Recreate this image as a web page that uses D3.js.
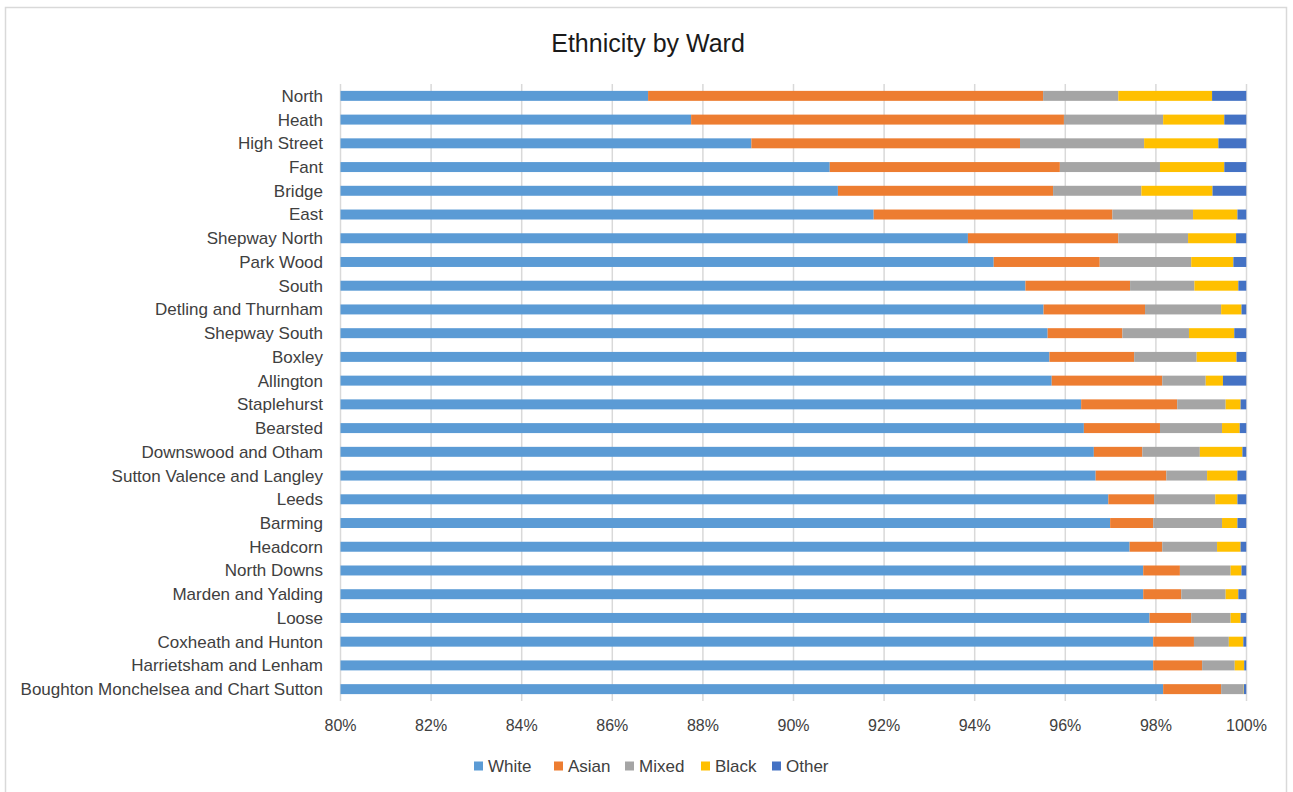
<!DOCTYPE html>
<meta charset="utf-8">
<style>
  body { margin: 0; background: white; }
  svg { font-family: "Liberation Sans", Arial, sans-serif; }
  .grid line { stroke: #d9d9d9; stroke-width: 1.5; }
  .ylab text { fill: #404040; font-size: 17px; }
  .xlab text { fill: #404040; font-size: 16px; }
  .legend text { fill: #404040; font-size: 17px; }
</style>
<body>
</body>
<script src="https://cdn.jsdelivr.net/npm/d3@7"></script>
<script>
  const wards = ['North', 'Heath', 'High Street', 'Fant', 'Bridge', 'East', 'Shepway North',
    'Park Wood', 'South', 'Detling and Thurnham', 'Shepway South', 'Boxley', 'Allington',
    'Staplehurst', 'Bearsted', 'Downswood and Otham', 'Sutton Valence and Langley', 'Leeds',
    'Barming', 'Headcorn', 'North Downs', 'Marden and Yalding', 'Loose', 'Coxheath and Hunton',
    'Harrietsham and Lenham', 'Boughton Monchelsea and Chart Sutton'];

  // percent of ward population, in the same order as wards
  const white = [86.79, 87.74, 89.07, 90.80, 90.98, 91.77, 93.85, 94.42, 95.12, 95.52, 95.61, 95.65, 95.70,
    96.35, 96.41, 96.63, 96.67, 96.95, 96.99, 97.42, 97.72, 97.72, 97.86, 97.94, 97.94, 98.16];
  const asian = [8.72, 8.23, 5.93, 5.08, 4.75, 5.27, 3.32, 2.34, 2.31, 2.24, 1.65, 1.87, 2.44,
    2.12, 1.68, 1.07, 1.56, 1.01, 0.95, 0.72, 0.81, 0.84, 0.92, 0.90, 1.08, 1.28];
  const mixed = [1.66, 2.19, 2.74, 2.21, 1.95, 1.78, 1.54, 2.02, 1.42, 1.68, 1.47, 1.38, 0.96,
    1.07, 1.37, 1.27, 0.90, 1.35, 1.52, 1.21, 1.12, 0.98, 0.87, 0.77, 0.72, 0.49];
  const black = [2.07, 1.35, 1.64, 1.42, 1.57, 0.98, 1.06, 0.93, 0.97, 0.45, 1.00, 0.88, 0.38,
    0.33, 0.39, 0.94, 0.67, 0.49, 0.34, 0.52, 0.24, 0.28, 0.22, 0.32, 0.21, 0.01];
  const other = [0.76, 0.49, 0.62, 0.49, 0.75, 0.20, 0.23, 0.29, 0.18, 0.11, 0.27, 0.22, 0.52,
    0.13, 0.15, 0.09, 0.20, 0.20, 0.20, 0.13, 0.11, 0.18, 0.13, 0.07, 0.05, 0.06];

  const seriesNames = ['White', 'Asian', 'Mixed', 'Black', 'Other'];
  const colors = ['#5b9bd5', '#ed7d31', '#a5a5a5', '#ffc000', '#4472c4'];
  const xTicks = [80, 82, 84, 86, 88, 90, 92, 94, 96, 98, 100];

  const W = 1293, H = 792;
  const plot = {l: 340.5, r: 1246.5, t: 84, b: 701};

  const table = wards.map((w, i) => ({ward: w, White: white[i], Asian: asian[i], Mixed: mixed[i], Black: black[i], Other: other[i]}));
  const stacked = d3.stack().keys(seriesNames)(table);

  const svg = d3.select('body').append('svg')
    .attr('width', W).attr('height', H);

  // chart frame
  svg.append('rect')
    .attr('x', 5.5).attr('y', 7.5)
    .attr('width', 1281).attr('height', 800)
    .attr('fill', 'white').attr('stroke', '#d9d9d9').attr('stroke-width', 1.5);

  const x = d3.scaleLinear().domain([80, 100]).range([plot.l, plot.r]);
  const y = d3.scaleBand().domain(wards).range([plot.t, plot.b])
    .paddingInner(0.58).paddingOuter(0.29);

  // vertical gridlines
  svg.append('g').attr('class', 'grid')
    .selectAll('line')
    .data(xTicks)
    .join('line')
    .attr('x1', d => x(d)).attr('x2', d => x(d))
    .attr('y1', plot.t).attr('y2', plot.b);

  // bars (clipped to the 80% axis start)
  svg.append('clipPath').attr('id', 'clip')
    .append('rect')
    .attr('x', plot.l).attr('y', plot.t)
    .attr('width', plot.r - plot.l).attr('height', plot.b - plot.t);

  svg.append('g').attr('clip-path', 'url(#clip)')
    .selectAll('g')
    .data(stacked)
    .join('g')
    .attr('fill', (d, i) => colors[i])
    .selectAll('rect')
    .data(d => d)
    .join('rect')
    .attr('x', d => x(d[0]))
    .attr('width', d => Math.max(0, x(d[1]) - x(d[0])))
    .attr('y', d => y(d.data.ward))
    .attr('height', y.bandwidth());

  // ward labels
  svg.append('g').attr('class', 'ylab')
    .selectAll('text')
    .data(wards)
    .join('text')
    .attr('x', 323)
    .attr('y', d => y(d) + y.bandwidth() / 2)
    .attr('dy', '0.35em')
    .attr('text-anchor', 'end')
    .text(d => d);

  // percent labels
  svg.append('g').attr('class', 'xlab')
    .selectAll('text')
    .data(xTicks)
    .join('text')
    .attr('x', d => x(d))
    .attr('y', 731)
    .attr('text-anchor', 'middle')
    .text(d => d + '%');

  // title
  svg.append('text')
    .attr('x', 648).attr('y', 52)
    .attr('text-anchor', 'middle')
    .attr('fill', '#1a1a1a')
    .style('font-size', '25px')
    .text('Ethnicity by Ward');

  // legend
  const legendX = [474, 554, 625, 701, 772];
  const lg = svg.append('g').attr('class', 'legend')
    .selectAll('g')
    .data(seriesNames)
    .join('g')
    .attr('transform', (d, i) => `translate(${legendX[i]}, 766)`);
  lg.append('rect')
    .attr('x', 0).attr('y', -4.5)
    .attr('width', 9).attr('height', 9)
    .attr('fill', (d, i) => colors[i]);
  lg.append('text')
    .attr('x', 14).attr('dy', '0.35em')
    .text(d => d);
</script>
